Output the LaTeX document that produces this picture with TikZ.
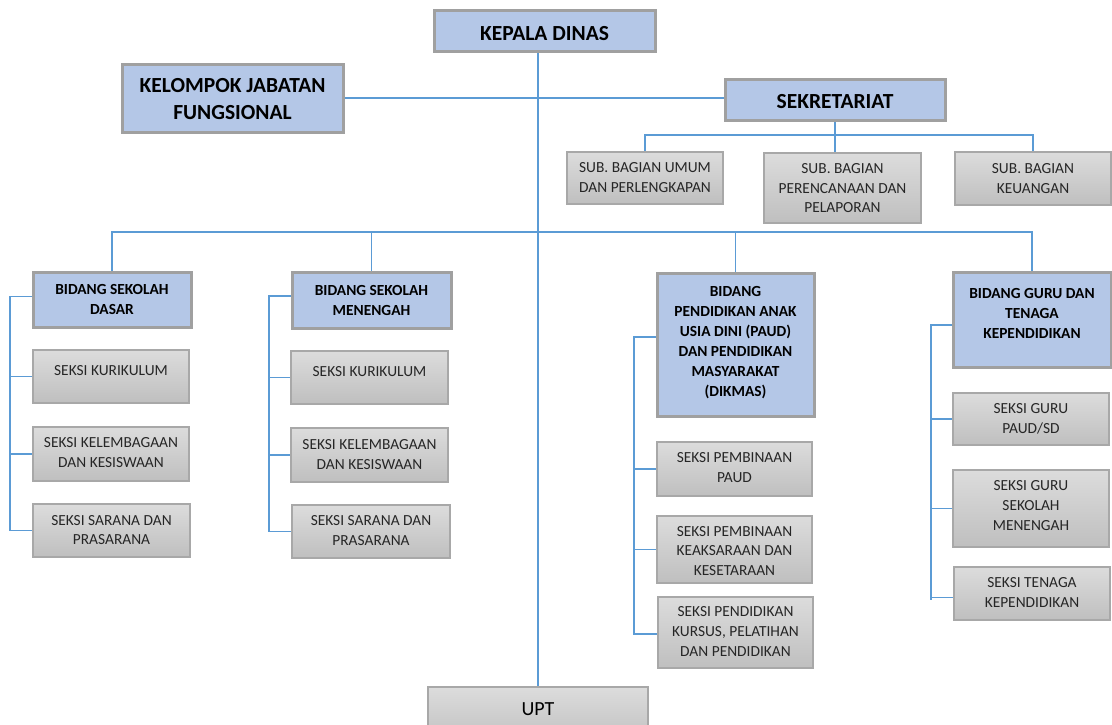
\documentclass[tikz,border=0pt]{standalone}
\usepackage{fontspec}
\setmainfont{Carlito}
\usetikzlibrary{backgrounds,calc}
\definecolor{boxblue}{HTML}{B4C7E7}
\definecolor{bordgray}{HTML}{A0A0A0}
\definecolor{bordgraytwo}{HTML}{A8A8A8}
\definecolor{gtop}{HTML}{DCDCDC}
\definecolor{gbot}{HTML}{BFBFBF}
\definecolor{linecol}{HTML}{5B9BD5}
\definecolor{txtgray}{HTML}{262626}
\tikzset{
  conn/.style={draw=linecol, line width=1.4pt},
  bluebox/.style={draw=bordgray, line width=3pt, fill=boxblue, inner sep=0pt, outer sep=0pt},
  graybox/.style={draw=bordgraytwo, line width=1.3pt, top color=gtop, bottom color=gbot, inner sep=0pt, outer sep=0pt},
  toptext/.style={font=\bfseries\fontsize{21.5}{27}\selectfont, align=center, inner sep=0pt, anchor=north, text=black},
  bidtext/.style={font=\bfseries\fontsize{15.4}{20}\selectfont, align=center, inner sep=0pt, anchor=north, text=black},
  seksitext/.style={font=\fontsize{15.4}{19.6}\selectfont, align=center, inner sep=0pt, anchor=north, text=txtgray},
  upttext/.style={font=\fontsize{20}{24}\selectfont, align=center, inner sep=0pt, anchor=north, text=black},
}
% #1 name, #2-#5 x1 y1 x2 y2, #6 box style, #7 text style, #8 cap-top y, #9 text
\newcommand{\orgbox}[9]{%
  \node[#6, minimum width={(#4-#2)*1pt}, minimum height={(#5-#3)*1pt}] (#1) at ({(#2+#4)/2},{(#3+#5)/2}) {};
  \node[#7] (#1-t) at ({(#2+#4)/2},#8) {#9};
}
\begin{document}
\begin{tikzpicture}[x=1pt,y=-1pt]
\useasboundingbox (0,0) rectangle (1112,724);
% boxes
\orgbox{kd}{434}{10}{655}{51}{bluebox}{toptext}{26}{KEPALA DINAS}
\orgbox{kjf}{122}{64}{343}{132}{bluebox}{toptext}{78}{KELOMPOK JABATAN\\FUNGSIONAL}
\orgbox{sek}{725}{79}{945}{120}{bluebox}{toptext}{94}{SEKRETARIAT}
\orgbox{sb1}{567}{152}{723}{204}{graybox}{seksitext}{162.7}{SUB. BAGIAN UMUM\\DAN PERLENGKAPAN}
\orgbox{sb2}{764}{153}{921}{223}{graybox}{seksitext}{163.3}{SUB. BAGIAN\\PERENCANAAN DAN\\PELAPORAN}
\orgbox{sb3}{955}{152}{1111}{205}{graybox}{seksitext}{163.3}{SUB. BAGIAN\\KEUANGAN}
\orgbox{b1}{33}{272}{191}{327}{bluebox}{bidtext}{284.3}{BIDANG SEKOLAH\\DASAR}
\orgbox{s11}{33}{350}{189}{403}{graybox}{seksitext}{365}{SEKSI KURIKULUM}
\orgbox{s12}{33}{427}{189}{481}{graybox}{seksitext}{437.7}{SEKSI KELEMBAGAAN\\DAN KESISWAAN}
\orgbox{s13}{33}{504}{190}{557}{graybox}{seksitext}{515}{SEKSI SARANA DAN\\PRASARANA}
\orgbox{b2}{292}{272}{451}{328}{bluebox}{bidtext}{285}{BIDANG SEKOLAH\\MENENGAH}
\orgbox{s21}{291}{351}{448}{404}{graybox}{seksitext}{366}{SEKSI KURIKULUM}
\orgbox{s22}{291}{428}{448}{482}{graybox}{seksitext}{439.3}{SEKSI KELEMBAGAAN\\DAN KESISWAAN}
\orgbox{s23}{292}{505}{450}{558}{graybox}{seksitext}{515.3}{SEKSI SARANA DAN\\PRASARANA}
\orgbox{b3}{657}{273}{814}{416}{bluebox}{bidtext}{286}{BIDANG\\PENDIDIKAN ANAK\\USIA DINI (PAUD)\\DAN PENDIDIKAN\\MASYARAKAT\\(DIKMAS)}
\orgbox{s31}{657}{442}{812}{496}{graybox}{seksitext}{452.7}{SEKSI PEMBINAAN\\PAUD}
\orgbox{s32}{657}{516}{812}{583}{graybox}{seksitext}{526}{SEKSI PEMBINAAN\\KEAKSARAAN DAN\\KESETARAAN}
\orgbox{s33}{658}{597}{813}{668}{graybox}{seksitext}{606.7}{SEKSI PENDIDIKAN\\KURSUS, PELATIHAN\\DAN PENDIDIKAN}
\orgbox{b4}{953}{272}{1111}{367}{bluebox}{bidtext}{287.7}{BIDANG GURU DAN\\TENAGA\\KEPENDIDIKAN}
\orgbox{s41}{953}{393}{1109}{445}{graybox}{seksitext}{403.3}{SEKSI GURU\\PAUD/SD}
\orgbox{s42}{953}{470}{1109}{547}{graybox}{seksitext}{480.7}{SEKSI GURU\\SEKOLAH\\MENENGAH}
\orgbox{s43}{954}{567}{1110}{620}{graybox}{seksitext}{577.7}{SEKSI TENAGA\\KEPENDIDIKAN}
\orgbox{upt}{428}{687}{648}{745}{graybox}{upttext}{702}{UPT}
% connectors
\coordinate (sbus) at (0,135);
\coordinate (bbus) at (0,232);
\coordinate (v1) at (10,0);
\coordinate (v2) at (269,0);
\coordinate (v3) at (634,0);
\coordinate (v4) at (931,0);
\begin{scope}[on background layer]
  \fill[white] (0,0) rectangle (1112,724);
  \draw[conn] (upt.north |- kd.south) -- (upt.north);
  \draw[conn] (kjf.east) -- (kjf.east -| sek.west);
  \draw[conn] (sek.south) -- (sek.south |- sb2.north);
  \draw[conn] (sb1.north) -- (sb1.north |- sbus) -- (sb3.north |- sbus) -- (sb3.north);
  \draw[conn] (b1.north) -- (b1.north |- bbus) -- (b4.north |- bbus) -- (b4.north);
  \draw[conn] (b2.north) -- (b2.north |- bbus);
  \draw[conn] (b3.north) -- (b3.north |- bbus);
  % SD
  \draw[conn] ([yshift=3pt]b1.west) -- ([yshift=3pt]b1.west -| v1) -- (s13.west -| v1) -- (s13.west);
  \draw[conn] (s11.west -| v1) -- (s11.west);
  \draw[conn] (s12.west -| v1) -- (s12.west);
  % SMP
  \draw[conn] ([yshift=4pt]b2.west) -- ([yshift=4pt]b2.west -| v2) -- (s23.west -| v2) -- (s23.west);
  \draw[conn] (s21.west -| v2) -- (s21.west);
  \draw[conn] (s22.west -| v2) -- (s22.west);
  % PAUD
  \draw[conn] ([yshift=7.5pt]b3.west) -- ([yshift=7.5pt]b3.west -| v3) -- ([yshift=-1.5pt]s33.west -| v3) -- ([yshift=-1.5pt]s33.west);
  \draw[conn] (s31.west -| v3) -- (s31.west);
  \draw[conn] (s32.west -| v3) -- (s32.west);
  % GURU
  \draw[conn] ([yshift=-5.5pt]b4.west) -- ([yshift=-5.5pt]b4.west -| v4) -- ([yshift=-4pt]s43.west -| v4) -- ++(0,2) ;
  \draw[conn] ([yshift=-4pt]s43.west -| v4) -- ([yshift=-4pt]s43.west);
  \draw[conn] (s41.west -| v4) -- (s41.west);
  \draw[conn] (s42.west -| v4) -- (s42.west);
\end{scope}
\end{tikzpicture}
\end{document}
